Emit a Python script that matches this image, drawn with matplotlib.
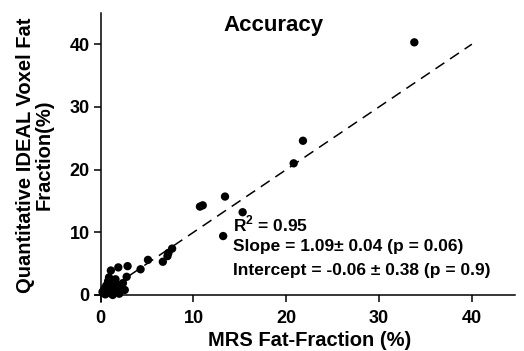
import numpy as np
import matplotlib
matplotlib.use("Agg")
import matplotlib.pyplot as plt

plt.rcParams['font.family'] = ['Liberation Sans', 'DejaVu Sans']
plt.rcParams['font.weight'] = 'bold'
plt.rcParams['mathtext.fontset'] = 'custom'
plt.rcParams['mathtext.rm'] = 'Liberation Sans:bold'
plt.rcParams['mathtext.bf'] = 'Liberation Sans:bold'

# MRS fat fraction (x) vs IDEAL voxel fat fraction (y)
mrs = [33.8, 21.8, 20.8, 10.7, 11.0, 13.4, 15.3, 13.2, 7.7, 7.3, 7.2, 6.7,
       5.1, 4.3, 2.9, 1.9, 1.1, 2.8, 2.6,
       0.2, 0.4, 0.6, 0.8, 1.0, 1.2, 1.4, 1.5, 1.6, 1.8, 2.0, 2.2, 0.9, 0.5,
       1.3, 1.7, 2.4]
ideal = [40.3, 24.6, 21.0, 14.1, 14.3, 15.7, 13.2, 9.4, 7.4, 6.7, 6.2, 5.3,
         5.6, 4.1, 4.6, 4.4, 3.9, 2.9, 0.8,
         0.5, 1.0, 1.5, 2.2, 0.3, 1.0, 1.8, 0.5, 2.5, 1.2, 0.2, 1.6, 2.8, 0.1,
         0.0, 0.8, 1.9]
fit_x = [0, 40]
fit_y = [0, 40]
ticks = [0, 10, 20, 30, 40]
stats = [r"R$^{\mathbf{2}}$ = 0.95",
         "Slope = 1.09\u00b1 0.04 (p = 0.06)",
         "Intercept = -0.06 \u00b1 0.38 (p = 0.9)"]

W, H = 524, 351
fig = plt.figure(figsize=(W / 100, H / 100), dpi=100)
ax = fig.add_axes([95 / W, 1 - 302 / H, 420 / W, 289 / H])

ax.plot(fit_x, fit_y, color='black', lw=1.1, linestyle=(0, (7, 4.5)), zorder=2)
ax.scatter(mrs, ideal, s=36, color='black', edgecolors='none', zorder=3)

ax.set_xlim(-0.61, 44.65)
ax.set_ylim(-1.12, 44.98)
ax.spines['top'].set_visible(False)
ax.spines['right'].set_visible(False)
ax.spines['left'].set_position(('data', 0))
ax.spines['bottom'].set_position(('data', 0))
for s in ('left', 'bottom'):
    ax.spines[s].set_linewidth(1.1)
ax.set_xticks(ticks)
ax.set_yticks(ticks)
ax.tick_params(direction='out', length=5, width=1.1, labelsize=13)
ax.tick_params(axis='x', pad=6)
ax.tick_params(axis='y', pad=3)
for lab in ax.get_xticklabels() + ax.get_yticklabels():
    lab.set_fontweight('bold')

fig.text(273 / W, 1 - 26 / H, "Accuracy", fontsize=16, fontweight='bold',
         ha='center', va='center')
fig.text(310 / W, 1 - 341 / H, "MRS Fat-Fraction (%)", fontsize=14.5,
         fontweight='bold', ha='center', va='center')
fig.text(35 / W, 1 - 155 / H, "Quantitative IDEAL Voxel Fat\nFraction(%)",
         fontsize=14.5, fontweight='bold', ha='center', va='center',
         rotation=90, multialignment='center', linespacing=1.0)

for i, txt in enumerate(stats):
    fig.text(233 / W, 1 - (224 + 23 * i) / H, txt, fontsize=12.5,
             fontweight='bold', ha='left', va='center')

fig.savefig("out.png", dpi=100)
